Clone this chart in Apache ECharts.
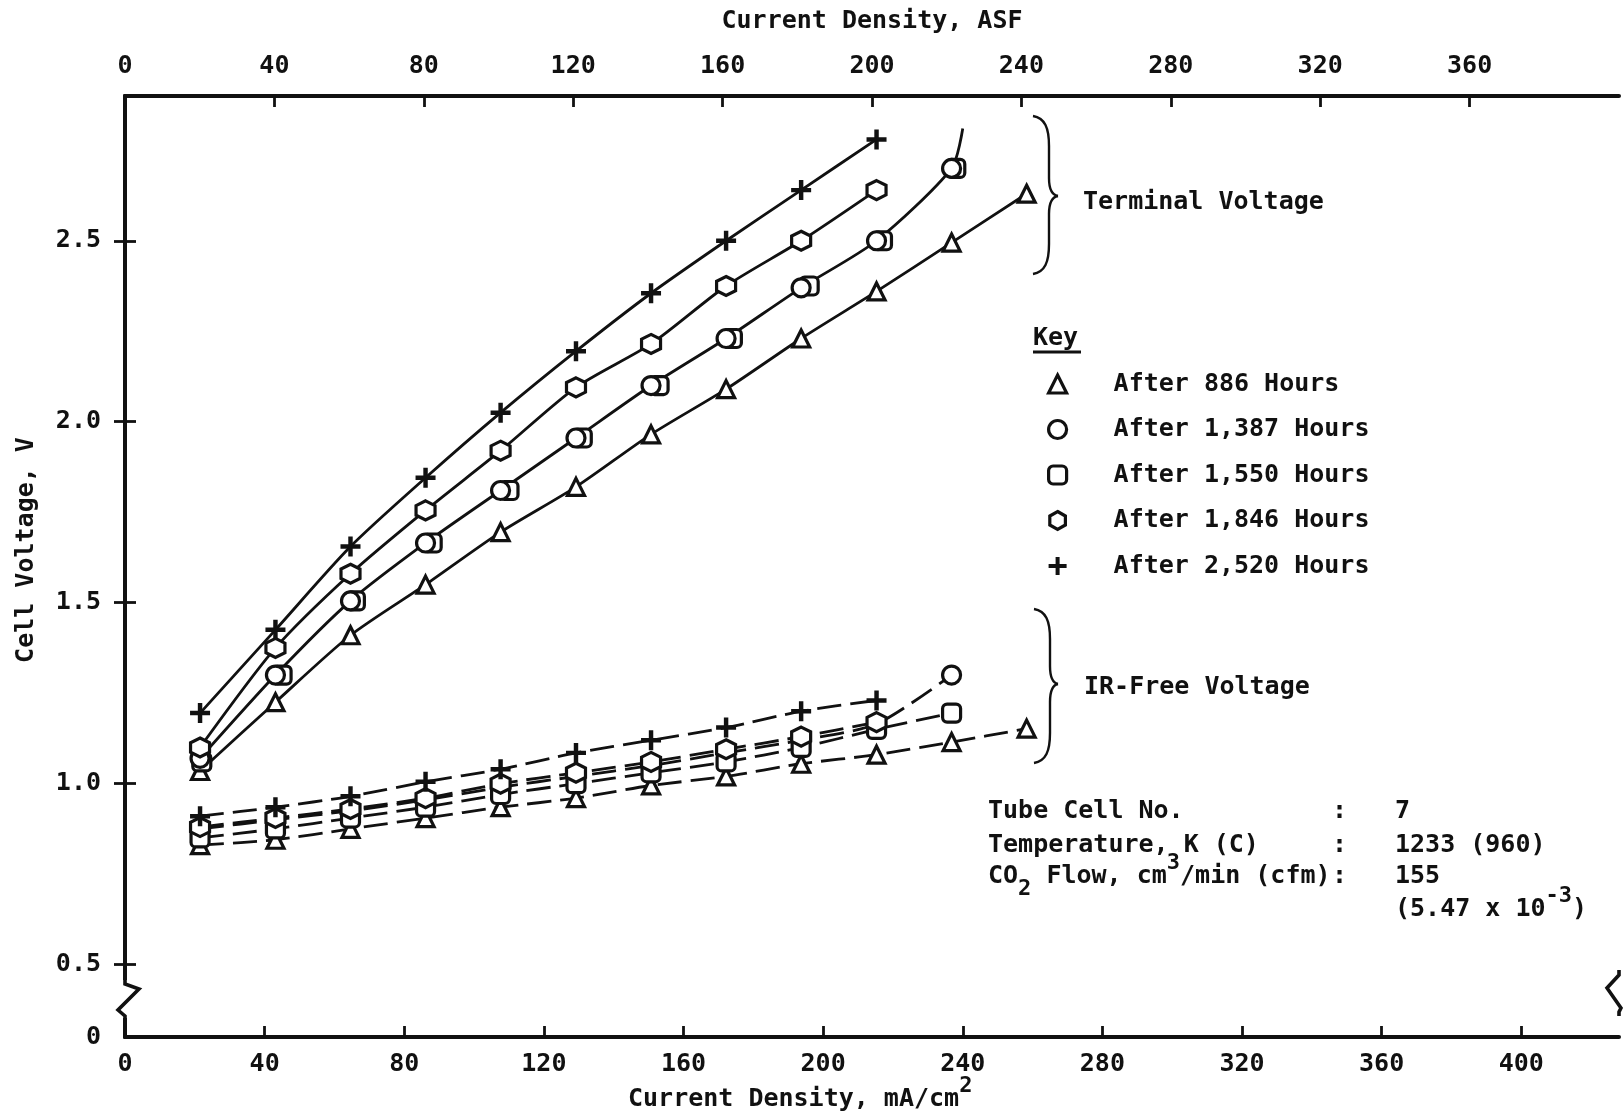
<!DOCTYPE html>
<html>
<head>
<meta charset="utf-8">
<script src="https://cdn.jsdelivr.net/npm/echarts@6/dist/echarts.min.js"></script>
<style>
  html, body { margin: 0; padding: 0; background: #fff; }
  #chart { width: 1623px; height: 1114px; }
</style>
</head>
<body>
<div id="chart"></div>
<script>
// test points, mA/cm2 (20 ASF steps)
const currentMa = [21.5, 43.1, 64.6, 86.1, 107.6, 129.2, 150.7, 172.2, 193.7, 215.3, 236.8, 258.3];
// the 1,550 h terminal squares are drawn a little to the right of the circles
const currentMa1550 = [22, 45, 66, 88, 110, 131, 153, 174, 196, 217, 238];

const names = ['After 886 Hours', 'After 1,387 Hours', 'After 1,550 Hours', 'After 1,846 Hours', 'After 2,520 Hours'];

// terminal voltage, V
const term886 = [1.035, 1.225, 1.41, 1.55, 1.695, 1.82, 1.965, 2.09, 2.23, 2.36, 2.495, 2.63];
const term1387 = [1.07, 1.30, 1.505, 1.665, 1.81, 1.955, 2.10, 2.23, 2.37, 2.50, 2.70];
const term1550 = [1.06, 1.30, 1.505, 1.665, 1.81, 1.955, 2.10, 2.23, 2.375, 2.50, 2.70];
const term1846 = [1.10, 1.375, 1.58, 1.755, 1.92, 2.095, 2.215, 2.375, 2.50, 2.64];
const term2520 = [1.195, 1.425, 1.655, 1.845, 2.025, 2.195, 2.355, 2.50, 2.64, 2.78];
// where the 1,387 / 1,550 h curve runs off
const termTail = [240, 2.81];

// IR-free voltage, V
const ir886 = [0.83, 0.845, 0.875, 0.905, 0.935, 0.96, 0.995, 1.02, 1.055, 1.08, 1.115, 1.152];
const ir1387 = [0.875, 0.90, 0.925, 0.955, 0.99, 1.02, 1.05, 1.085, 1.12, 1.165, 1.30];
const ir1550 = [0.85, 0.875, 0.905, 0.935, 0.97, 1.0, 1.03, 1.06, 1.10, 1.15, 1.195];
const ir1846 = [0.88, 0.905, 0.93, 0.96, 1.0, 1.03, 1.06, 1.095, 1.13, 1.17];
const ir2520 = [0.91, 0.935, 0.965, 1.005, 1.04, 1.085, 1.12, 1.155, 1.20, 1.23];

// axis ticks
const voltTicks = [0.5, 1.0, 1.5, 2.0, 2.5];
const voltBreak = 0.3;   // shown as "0" below the axis break

const FONT = '"DejaVu Sans Mono", "Liberation Mono", monospace';
const INK = '#111';
const FS = 25;

const HEX = 'path://M10,0L18.66,5L18.66,15L10,20L1.34,15L1.34,5Z';
const PLUS = 'path://M7,0H11V7H18V11H11V18H7V11H0V7H7Z';

const marks = {
  'After 886 Hours': { symbol: 'triangle', size: 17, solid: false },
  'After 1,387 Hours': { symbol: 'circle', size: 18, solid: false },
  'After 1,550 Hours': { symbol: 'roundRect', size: 18, solid: false },
  'After 1,846 Hours': { symbol: HEX, size: 19, solid: false },
  'After 2,520 Hours': { symbol: PLUS, size: 20, solid: true }
};

function pts(values, xs) {
  xs = xs || currentMa;
  return values.map((v, i) => [xs[i], v]);
}

function makeSeries(name, data, dashed, noLine) {
  const m = marks[name];
  return {
    name: name,
    type: 'line',
    xAxisIndex: 0,
    yAxisIndex: 0,
    data: data,
    symbol: m.symbol,
    symbolSize: m.size,
    showAllSymbol: true,
    smooth: 0.25,
    lineStyle: { color: INK, width: 2.8, type: dashed ? [24, 9] : 'solid', opacity: noLine ? 0 : 1 },
    itemStyle: m.solid
      ? { color: INK, borderWidth: 0 }
      : { color: '#fff', borderColor: INK, borderWidth: 3.2 },
    emphasis: { disabled: true },
    z: 3
  };
}

// the 1,387 h and 1,550 h terminal points share one drawn curve
const termSeries = [
  makeSeries(names[0], pts(term886), false),
  makeSeries(names[2], pts(term1550, currentMa1550), false, true),
  makeSeries(names[1], pts(term1387).concat([{ value: termTail, symbol: 'none' }]), false),
  makeSeries(names[3], pts(term1846), false),
  makeSeries(names[4], pts(term2520), false)
];
const irSeries = [
  makeSeries(names[0], pts(ir886), true),
  makeSeries(names[1], pts(ir1387), true),
  makeSeries(names[2], pts(ir1550), true),
  makeSeries(names[3], pts(ir1846), true),
  makeSeries(names[4], pts(ir2520), true)
];

const txt = { fontFamily: FONT, fontSize: FS, fontWeight: 'bold', color: INK };
const axisLine = { show: true, lineStyle: { color: INK, width: 4 } };
const tickIn = { show: true, inside: true, length: 11, lineStyle: { color: INK, width: 2.8 } };

function label(x, y, text, extra, rotation) {
  return {
    type: 'text', x: x, y: y, z: 100, rotation: rotation || 0,
    style: Object.assign({
      text: text, fill: INK, fontFamily: FONT, fontSize: FS, fontWeight: 'bold',
      align: 'left', verticalAlign: 'middle'
    }, extra || {})
  };
}

const richSup = {
  sup: { fontFamily: FONT, fontSize: 22, fontWeight: 'bold', fill: INK, verticalAlign: 'top', lineHeight: 48 },
  sub: { fontFamily: FONT, fontSize: 22, fontWeight: 'bold', fill: INK, verticalAlign: 'bottom', lineHeight: 46 }
};

const braceStyle = { fill: 'none', stroke: INK, lineWidth: 2.4 };

// curly brace: x0 = tips of the arms, x1 = spine, x2 = point
function brace(x0, x1, x2, yTop, yMid, yBot) {
  const bz = (a, b, c1, c2) => ({
    type: 'bezierCurve', z: 100, style: braceStyle,
    shape: { x1: a[0], y1: a[1], x2: b[0], y2: b[1], cpx1: c1[0], cpy1: c1[1], cpx2: c2[0], cpy2: c2[1] }
  });
  const ln = (a, b) => ({
    type: 'line', z: 100, style: braceStyle,
    shape: { x1: a[0], y1: a[1], x2: b[0], y2: b[1] }
  });
  return [
    bz([x0, yTop], [x1, yTop + 30], [x0 + 12, yTop + 2], [x1, yTop + 12]),
    ln([x1, yTop + 30], [x1, yMid - 18]),
    bz([x1, yMid - 18], [x2, yMid], [x1, yMid - 6], [x1 + 3, yMid - 1]),
    bz([x2, yMid], [x1, yMid + 18], [x1 + 3, yMid + 1], [x1, yMid + 6]),
    ln([x1, yMid + 18], [x1, yBot - 30]),
    bz([x1, yBot - 30], [x0, yBot], [x1, yBot - 12], [x0 + 12, yBot - 2])
  ];
}

const graphics = [
  // axis titles
  label(26, 550, 'Cell Voltage, V', { align: 'center' }, Math.PI / 2),
  label(628, 1099, 'Current Density, mA/cm{sup|2}', { rich: richSup }),
  // brace labels
  label(1083, 202, 'Terminal Voltage'),
  label(1084, 687, 'IR-Free Voltage'),
  // key heading
  label(1033, 338, 'Key'),
  { type: 'line', z: 100, shape: { x1: 1033, y1: 352, x2: 1081, y2: 352 }, style: { stroke: INK, lineWidth: 2.8 } },
  // test conditions
  label(988, 811, 'Tube Cell No.'),
  label(988, 845, 'Temperature, K (C)'),
  label(988, 876, 'CO{sub|2} Flow, cm{sup|3}/min (cfm)', { rich: richSup }),
  label(1332, 811, ':'),
  label(1332, 845, ':'),
  label(1332, 876, ':'),
  label(1395, 811, '7'),
  label(1395, 845, '1233 (960)'),
  label(1395, 876, '155'),
  label(1395, 909, '(5.47 x 10{sup|-3})', { rich: richSup }),
  // axis breaks
  { type: 'rect', z: 100, shape: { x: 119, y: 980, width: 14, height: 38 }, style: { fill: '#fff' } },
  { type: 'polyline', z: 101, shape: { points: [[125, 978], [125, 984], [139, 989], [118, 1010], [125, 1016], [125, 1020]] },
    style: { stroke: INK, lineWidth: 3.6, fill: 'none' } },
  { type: 'rect', z: 100, shape: { x: 1612, y: 971, width: 11, height: 44 }, style: { fill: '#fff' } },
  { type: 'polyline', z: 101, shape: { points: [[1619, 970], [1619, 975], [1607, 988], [1621, 1008], [1619, 1012], [1619, 1016]] },
    style: { stroke: INK, lineWidth: 3.6, fill: 'none' } }
].concat(brace(1033, 1049, 1058, 116, 196, 274), brace(1034, 1050, 1058, 609, 684, 763));

const chart = echarts.init(document.getElementById('chart'));

chart.setOption({
  backgroundColor: '#fff',
  animation: false,
  grid: { left: 125, right: 4, top: 96, bottom: 77, containLabel: false },
  xAxis: [
    {
      type: 'value', position: 'bottom', min: 0, max: 428, interval: 40,
      axisLine: axisLine, axisTick: tickIn, splitLine: { show: false },
      axisLabel: Object.assign({ margin: 15, showMaxLabel: false }, txt)
    },
    {
      type: 'value', position: 'top', min: 0, max: 400, interval: 40,
      name: 'Current Density, ASF', nameLocation: 'middle', nameGap: 62,
      nameTextStyle: txt,
      axisLine: axisLine, axisTick: tickIn, splitLine: { show: false },
      axisLabel: Object.assign({ margin: 17, showMaxLabel: false }, txt)
    }
  ],
  yAxis: [
    {
      type: 'value', position: 'left', min: voltBreak, max: 2.9,
      axisLine: axisLine, splitLine: { show: false },
      axisTick: Object.assign({ customValues: voltTicks }, tickIn),
      axisLabel: Object.assign({
        margin: 24,
        customValues: [voltBreak].concat(voltTicks),
        formatter: v => (v < 0.4 ? '0' : v.toFixed(1))
      }, txt)
    },
    {
      type: 'value', position: 'right', min: voltBreak, max: 2.9,
      axisLine: axisLine, splitLine: { show: false },
      axisTick: Object.assign({ customValues: voltTicks }, tickIn),
      axisLabel: { show: false }
    }
  ],
  legend: {
    orient: 'vertical', left: 1042, top: 366,
    itemWidth: 18, itemHeight: 18, itemGap: 19.5,
    selectedMode: false,
    itemStyle: { borderColor: INK, borderWidth: 3.2 },
    textStyle: Object.assign({ padding: [0, 0, 0, 42], lineHeight: 26 }, txt),
    data: [
      { name: names[0], icon: 'triangle' },
      { name: names[1], icon: 'circle' },
      { name: names[2], icon: 'roundRect' },
      { name: names[3], icon: HEX },
      { name: names[4], icon: PLUS, itemStyle: { color: INK, borderWidth: 0 } }
    ]
  },
  graphic: graphics,
  series: termSeries.concat(irSeries)
});
</script>
</body>
</html>
